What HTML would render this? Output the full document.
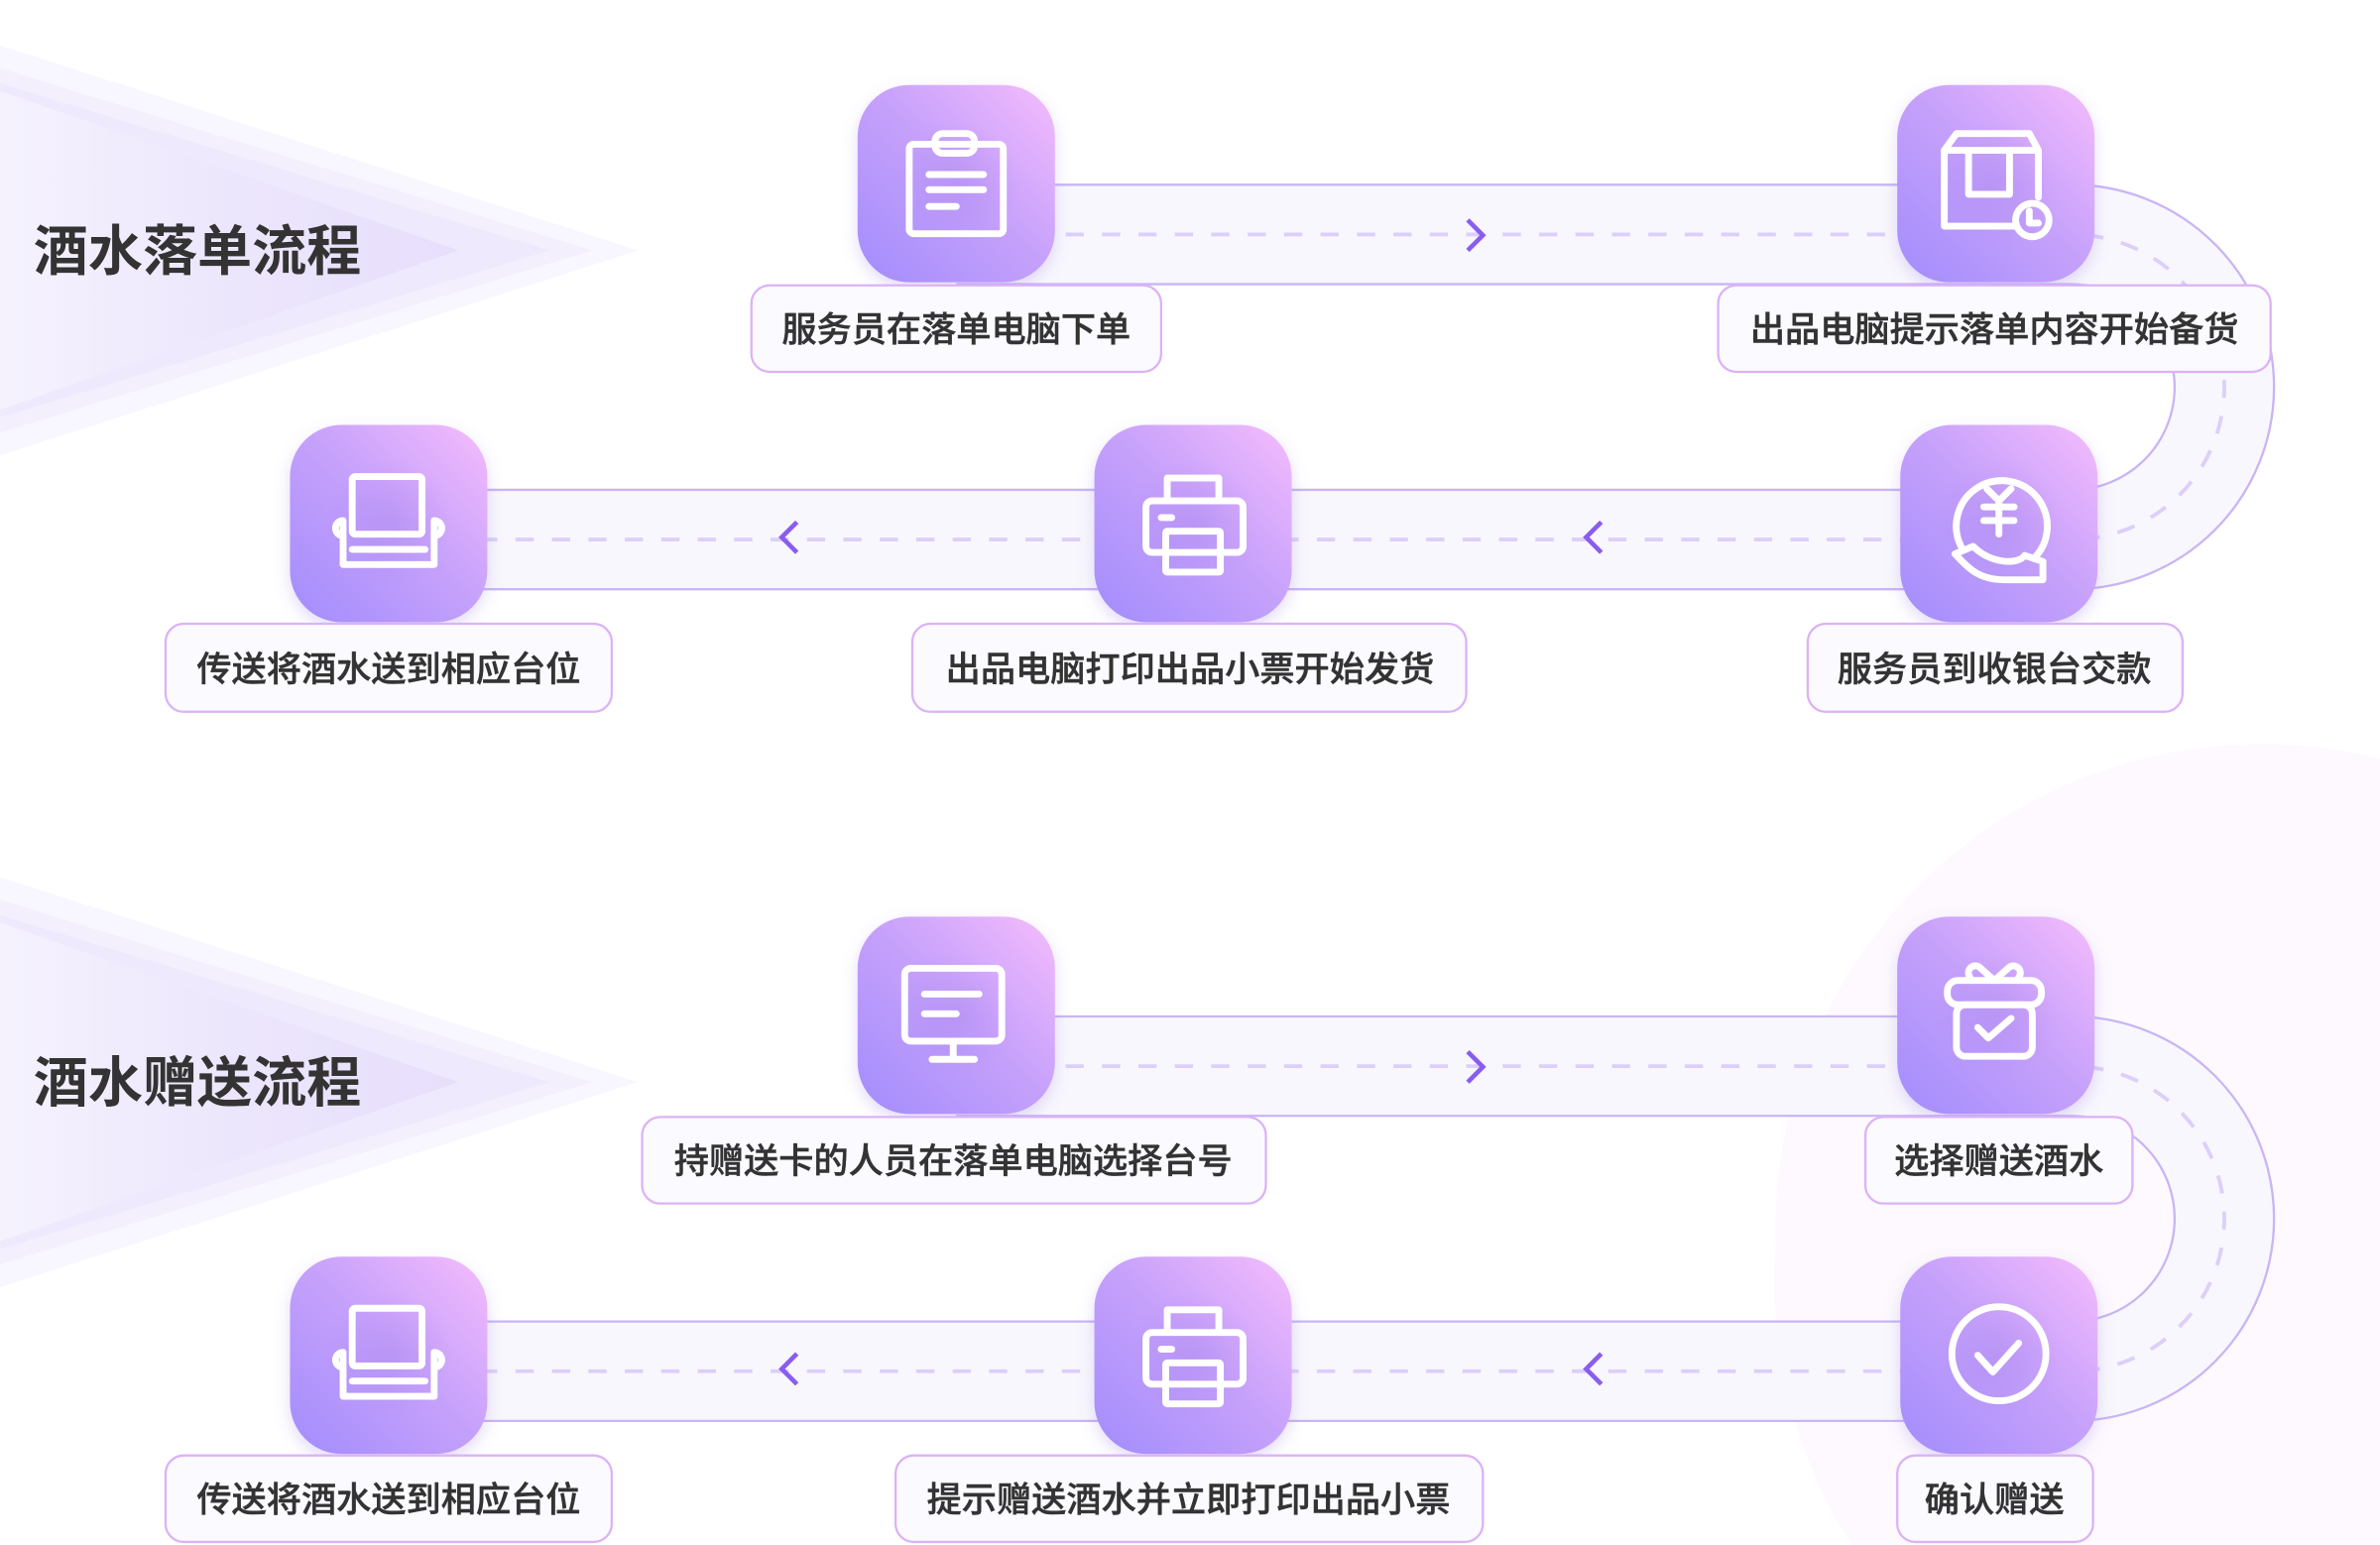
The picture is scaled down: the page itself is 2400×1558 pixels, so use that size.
<!DOCTYPE html>
<html><head><meta charset="utf-8"><style>
html,body{margin:0;padding:0;background:#fff;width:2400px;height:1558px;overflow:hidden;}
svg{display:block;}
text{font-family:"Liberation Sans","Noto Sans CJK SC",sans-serif;}
</style></head><body>
<svg width="2400" height="1558" viewBox="0 0 1568 1018" xmlns="http://www.w3.org/2000/svg">
<defs>
<linearGradient id="ig" x1="0" y1="1" x2="1" y2="0">
<stop offset="0" stop-color="#a28cfc"/><stop offset="0.55" stop-color="#c8a2fb"/><stop offset="1" stop-color="#f5bcfd"/>
</linearGradient>
<radialGradient id="ish" cx="0.5" cy="0.5" r="0.5">
<stop offset="0" stop-color="#9a78e6" stop-opacity="0.45"/><stop offset="1" stop-color="#9a78e6" stop-opacity="0"/>
</radialGradient>
<linearGradient id="chev" x1="0" y1="0" x2="1" y2="0">
<stop offset="0" stop-color="#f6f3fe"/><stop offset="0.5" stop-color="#ece6fc"/><stop offset="1" stop-color="#e6ddfb"/>
</linearGradient>
<filter id="sh" x="-30%" y="-30%" width="160%" height="160%"><feDropShadow dx="0" dy="4" stdDeviation="5" flood-color="#9070e0" flood-opacity="0.25"/></filter>
<clipPath id="frame"><rect x="0" y="0" width="1568" height="1018"/></clipPath>
</defs>

<g clip-path="url(#frame)">
<path d="M1568,500 A320,320 0 0 0 1170,820 A320,320 0 0 0 1220,1018 H1568 Z" fill="#fdf9fe"/>
</g>

<g>
<polygon points="0,30 420,165 0,300" fill="#f8f6fe"/>
<polygon points="0,45 390,165 0,285" fill="#f3effd"/>
<polygon points="0,55 362,165 0,275" fill="#efe9fd"/>
<polygon points="0,60 302,165 0,270" fill="url(#chev)" opacity="0.9"/>
</g>
<g transform="translate(0,548)">
<polygon points="0,30 420,165 0,300" fill="#f8f6fe"/>
<polygon points="0,45 390,165 0,285" fill="#f3effd"/>
<polygon points="0,55 362,165 0,275" fill="#efe9fd"/>
<polygon points="0,60 302,165 0,270" fill="url(#chev)" opacity="0.9"/>
</g>
<text x="22" y="178" font-size="36" font-weight="bold" fill="#333">酒水落单流程</text>
<text x="22" y="726" font-size="36" font-weight="bold" fill="#333">酒水赠送流程</text>

<g id="trk">
<path d="M630,154.5 H1365 A100.5,100.5 0 0 1 1365,355.5 H256" fill="none" stroke="#c9b5f5" stroke-width="67"/>
<path d="M630,154.5 H1365 A100.5,100.5 0 0 1 1365,355.5 H256" fill="none" stroke="#f8f7fd" stroke-width="64"/>
<path d="M630,154.5 H1365 A100.5,100.5 0 0 1 1365,355.5 H256" fill="none" stroke="#dccff9" stroke-width="2.5" stroke-dasharray="12 12"/>
<path d="M967,145 L977,155 L967,165" fill="none" stroke="#8a5cf0" stroke-width="3"/>
<path d="M525,344 L515,354 L525,364" fill="none" stroke="#8a5cf0" stroke-width="3"/>
<path d="M1055,344 L1045,354 L1055,364" fill="none" stroke="#8a5cf0" stroke-width="3"/>
</g>
<use href="#trk" transform="translate(0,548)"/>

<g id="boxes" filter="url(#sh)">
<rect x="565" y="56" width="130" height="130" rx="34" fill="url(#ig)"/>
<rect x="1250" y="56" width="130" height="130" rx="34" fill="url(#ig)"/>
<rect x="191" y="280" width="130" height="130" rx="34" fill="url(#ig)"/>
<rect x="721" y="280" width="130" height="130" rx="34" fill="url(#ig)"/>
<rect x="1252" y="280" width="130" height="130" rx="34" fill="url(#ig)"/>
</g>
<use href="#boxes" transform="translate(0,548)"/>
<g opacity="0.6">
<circle cx="630" cy="121" r="42" fill="url(#ish)"/><circle cx="1315" cy="121" r="42" fill="url(#ish)"/>
<circle cx="256" cy="345" r="42" fill="url(#ish)"/><circle cx="786" cy="345" r="42" fill="url(#ish)"/><circle cx="1317" cy="345" r="42" fill="url(#ish)"/>
<circle cx="629" cy="669" r="42" fill="url(#ish)"/><circle cx="1315" cy="669" r="42" fill="url(#ish)"/>
<circle cx="256" cy="893" r="42" fill="url(#ish)"/><circle cx="786" cy="893" r="42" fill="url(#ish)"/><circle cx="1317" cy="893" r="42" fill="url(#ish)"/>
</g>

<g fill="none" stroke="#fff" stroke-width="4.5" stroke-linecap="round" stroke-linejoin="round">
<rect x="599" y="95" width="62" height="59" rx="3"/>
<rect x="616" y="88" width="26" height="13" rx="5"/>
<line x1="612" y1="115" x2="648" y2="115"/><line x1="612" y1="125" x2="648" y2="125"/><line x1="612" y1="136" x2="630" y2="136"/>
<path d="M1327,149 H1281 V99 L1289,88 H1337 L1343,99 V130"/>
<line x1="1281" y1="99" x2="1343" y2="99"/>
<path d="M1297,99 V128 H1324 V99"/>
<circle cx="1339" cy="145" r="11"/><path d="M1337,139 V147 H1343"/>
<g id="chair">
<rect x="232" y="314" width="46" height="38" rx="2"/>
<path d="M226,343 V372 H286 V343 M226,343 A5,5 0 0 0 226,353 M286,343 A5,5 0 0 1 286,353 M232,362 H280"/>
</g>
<g id="printer">
<path d="M769,330 V315 H803 V330"/>
<rect x="755" y="330" width="64" height="34" rx="4"/>
<rect x="768" y="350" width="36" height="27" rx="1"/>
<line x1="765" y1="341" x2="772" y2="341"/>
</g>
<path d="M1292,360 A30,30 0 1 1 1340,368"/>
<path d="M1309,322 L1317,330 L1325,322 M1317,330 V352 M1307,334 H1327 M1307,343 H1327"/>
<path d="M1288,365 C1295,372 1302,382 1320,382 H1346 V370 L1334,366 C1330,372 1312,372 1300,360 Z"/>
<rect x="596" y="638" width="64" height="48" rx="4"/>
<line x1="628" y1="686" x2="628" y2="697"/><line x1="614" y1="698" x2="642" y2="698"/>
<line x1="609" y1="655" x2="645" y2="655"/><line x1="609" y1="668" x2="630" y2="668"/>
<rect x="1283" y="646" width="62" height="16" rx="7"/>
<rect x="1289" y="662" width="50" height="34" rx="6"/>
<path d="M1314,646 L1305,638 A4,4 0 0 0 1298,644 V646 M1314,646 L1323,638 A4,4 0 0 1 1330,644 V646"/>
<path d="M1303,677 L1310,684 L1325,671"/>
<use href="#chair" transform="translate(0,548)"/>
<use href="#printer" transform="translate(0,548)"/>
<circle cx="1317" cy="892" r="31"/>
<path d="M1303,893 L1313,904 L1330,885"/>
</g>

<g fill="#fbfaff" stroke="#dcb2f6" stroke-width="1.5">
<rect x="495" y="188" width="270" height="57" rx="12"/>
<rect x="1132" y="188" width="364" height="57" rx="12"/>
<rect x="109" y="411" width="294" height="58" rx="12"/>
<rect x="601" y="411" width="365" height="58" rx="12"/>
<rect x="1191" y="411" width="247" height="58" rx="12"/>
<rect x="423" y="736" width="411" height="57" rx="12"/>
<rect x="1229" y="736" width="176" height="57" rx="12"/>
<rect x="109" y="959" width="294" height="57" rx="12"/>
<rect x="590" y="959" width="387" height="57" rx="12"/>
<rect x="1250" y="959" width="129" height="57" rx="12"/>
</g>
<g font-size="23" fill="#333" text-anchor="middle" font-weight="500" stroke="#333" stroke-width="0.3">
<text x="630" y="225">服务员在落单电脑下单</text>
<text x="1314" y="225">出品电脑提示落单内容开始备货</text>
<text x="256" y="449">传送将酒水送到相应台位</text>
<text x="784" y="449">出品电脑打印出品小票开始发货</text>
<text x="1314" y="449">服务员到收银台交款</text>
<text x="628" y="773">持赠送卡的人员在落单电脑选择台号</text>
<text x="1317" y="773">选择赠送酒水</text>
<text x="256" y="996">传送将酒水送到相应台位</text>
<text x="783" y="996">提示赠送酒水并立即打印出品小票</text>
<text x="1314" y="996">确认赠送</text>
</g>
</svg>
</body></html>
